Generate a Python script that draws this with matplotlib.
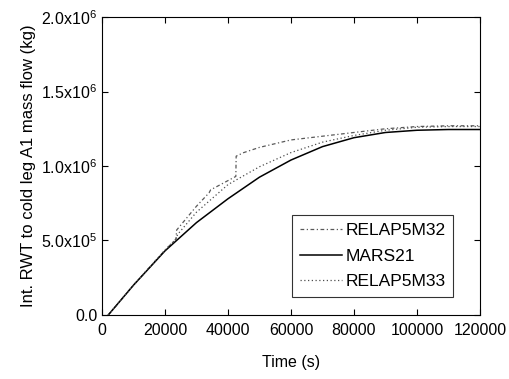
import matplotlib.pyplot as plt
from matplotlib.ticker import FixedLocator

plt.rcParams["font.family"] = ["Liberation Sans", "DejaVu Sans"]
plt.rcParams["mathtext.fontset"] = "custom"
plt.rcParams["mathtext.rm"] = "Liberation Sans"

# data (time in s, integrated mass in kg)
t_relap32 = [2000, 10000, 20000, 23500, 23700, 30000, 34000, 34500, 42500, 42600,
             45000, 50000, 60000, 70000, 80000, 90000, 100000, 110000, 120000]
relap32 = [0, 2.0e5, 4.35e5, 5.1e5, 5.7e5, 7.3e5, 8.2e5, 8.4e5, 9.3e5, 1.066e6,
           1.09e6, 1.125e6, 1.175e6, 1.2e6, 1.225e6, 1.25e6, 1.265e6, 1.27e6, 1.27e6]

t_mars = [2000, 10000, 20000, 30000, 40000, 50000, 60000, 70000, 80000,
          90000, 100000, 110000, 120000]
mars = [0, 2.0e5, 4.3e5, 6.2e5, 7.8e5, 9.25e5, 1.04e6, 1.13e6, 1.19e6,
        1.225e6, 1.24e6, 1.245e6, 1.245e6]

t_relap33 = [2000, 10000, 20000, 23500, 24000, 30000, 40000, 50000, 60000,
             70000, 80000, 90000, 100000, 110000, 120000]
relap33 = [0, 2.0e5, 4.35e5, 5.1e5, 5.4e5, 6.9e5, 8.75e5, 9.95e5, 1.09e6,
           1.16e6, 1.205e6, 1.24e6, 1.26e6, 1.265e6, 1.265e6]

x_ticks = [0, 20000, 40000, 60000, 80000, 100000, 120000]
y_ticks = [0, 5e5, 1e6, 1.5e6, 2e6]
y_labels = ["0.0", r"5.0x10$^{5}$", r"1.0x10$^{6}$", r"1.5x10$^{6}$", r"2.0x10$^{6}$"]

fig = plt.figure(figsize=(5.1, 3.79), dpi=100)
ax = fig.add_axes([0.2, 0.169, 0.741, 0.786])

ax.plot(t_relap32, relap32, color="0.35", lw=0.9, linestyle=(0, (3, 2, 1, 2)),
        label="RELAP5M32")
ax.plot(t_mars, mars, color="black", lw=1.1, label="MARS21")
ax.plot(t_relap33, relap33, color="0.3", lw=0.9, linestyle=(0, (1, 2)),
        label="RELAP5M33")

ax.set_xlim(0, 120000)
ax.set_ylim(0, 2e6)
ax.xaxis.set_major_locator(FixedLocator(x_ticks))
ax.set_xticklabels([str(v) for v in x_ticks])
ax.yaxis.set_major_locator(FixedLocator(y_ticks))
ax.set_yticklabels(y_labels)
ax.tick_params(direction="in", top=True, right=True, labelsize=11.5, length=4)
ax.tick_params(axis="x", pad=6)

ax.set_xlabel("Time (s)", fontsize=11.5, labelpad=12)
ax.set_ylabel("Int. RWT to cold leg A1 mass flow (kg)", fontsize=12, labelpad=4)

leg = ax.legend(loc="lower right", bbox_to_anchor=(0.929, 0.06), fontsize=12.5,
                frameon=True, fancybox=False, edgecolor="black", handlelength=2.4,
                handletextpad=0.2, borderpad=0.45, labelspacing=0.6,
                borderaxespad=0)
leg.get_frame().set_linewidth(0.8)

fig.savefig("out.png", dpi=100)
